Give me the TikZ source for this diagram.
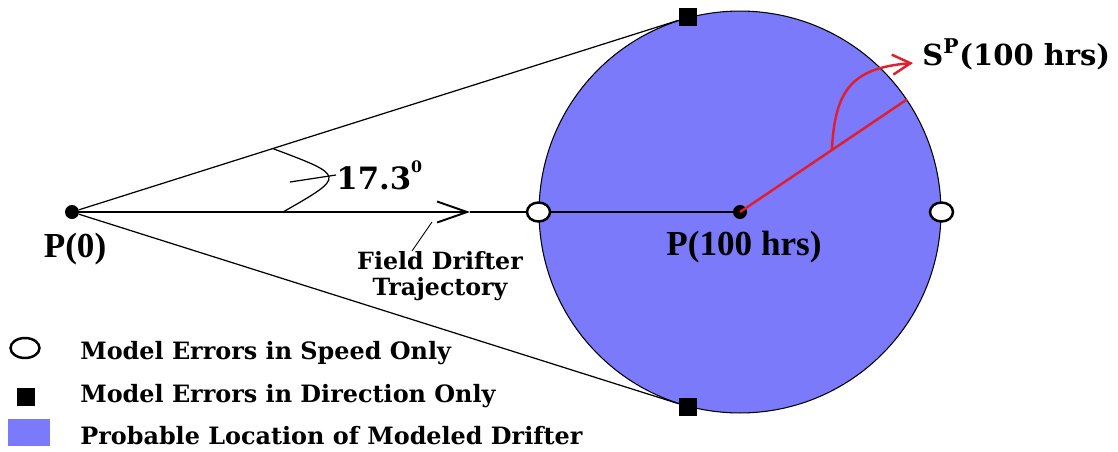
\documentclass[tikz,border=0pt]{standalone}
\usepackage{fontspec}
\setmainfont{DejaVu Serif}
\newfontfamily\ptfont{Liberation Serif}
\usetikzlibrary{arrows.meta, positioning, shapes.geometric, calc}
\definecolor{driftblue}{RGB}{122,122,250}
\definecolor{driftred}{RGB}{224,30,46}

\begin{document}
\begin{tikzpicture}[
    x=0.02cm, y=-0.02cm,
    posdot/.style={circle, fill=black, inner sep=0pt, minimum size=0.28cm},
    dirmark/.style={rectangle, fill=black, inner sep=0pt, minimum size=0.36cm},
    speedmark/.style={ellipse, draw, fill=white, line width=1.4pt, inner sep=0pt,
                      minimum width=0.46cm, minimum height=0.38cm},
    ptlabel/.style={font=\ptfont\bfseries\fontsize{20}{22}\selectfont, inner sep=0pt, anchor=base},
    legtext/.style={font=\bfseries\fontsize{13.6}{15}\selectfont, inner sep=0pt, anchor=base west},
    thinline/.style={line width=0.7pt},
    barb/.style={-{Straight Barb[length=#1, width=0.42cm, line width=1.1pt]}},
]
    \useasboundingbox (0,0) rectangle (1118,451);

    % Probable location of the modeled drifter
    \node[circle, fill=driftblue, draw, line width=0.6pt, inner sep=0pt, minimum size=8.04cm] (zone) at (740,212) {};
    \node[posdot] (p0) at (72,212) {};
    \node[posdot] (p100) at (zone.center) {};
    \node[dirmark] (dirtop) at (zone.105) {};
    \node[dirmark] (dirbot) at (zone.255) {};
    \node[speedmark] (spdw) at (zone.west) {};
    \node[speedmark] (spde) at (zone.east) {};
    \coordinate (chev) at (470,212);

    % Trajectory and direction limits
    \draw[thinline] (p0) -- (dirtop);
    \draw[thinline] (p0) -- (dirbot);
    \draw[thinline, barb=0.6cm] (p0) -- (chev);
    \draw[thinline] (chev) -- (spdw) -- (p100);

    % Angle
    \coordinate (anga) at ($(p0)!0.326!(dirtop)$);
    \coordinate (angb) at (283,212);
    \coordinate (angtick) at (290,182);
    \draw[thinline] (anga) .. controls (346,176) .. (angb);
    \node[anchor=west, inner sep=0pt, font=\bfseries\fontsize{17.5}{19}\selectfont] (anglbl) at (336,175)
        {17.3\raisebox{1.05ex}{\fontsize{9}{9}\selectfont 0}};
    \draw[thinline] (angtick) -- (anglbl.west);

    \node[ptlabel] (p0lbl) at (75,257) {P(0)};
    \node[ptlabel] (p100lbl) at (744,255) {P(100 hrs)};

    % Field drifter
    \node[anchor=north, inner sep=0pt, align=center, font=\bfseries\fontsize{13.5}{15}\selectfont] (fdt) at (440,251)
        {Field Drifter\\Trajectory};
    \coordinate (fdtip) at (432,222);
    \draw[line width=0.5pt] ($(fdt.north)+(-28,0)$) -- (fdtip);

    % Modeled drifter
    \coordinate (redend) at (zone.34.6);
    \coordinate (turn) at ($(p100)!0.55!(redend)$);
    \coordinate (tip) at (913,63);
    \draw[driftred, line width=1.4pt] (p100.center) -- (redend);
    \draw[driftred, line width=1.4pt, -{Straight Barb[length=0.36cm, width=0.4cm, line width=1.4pt]}]
        (turn) .. controls +(3,-58) and +(-63,5) .. (tip);
    \node[anchor=base west, inner sep=0pt, font=\bfseries\fontsize{16.5}{18}\selectfont] (splbl) at (922,65)
        {S\textsuperscript{P}(100 hrs)};

    % Legend
    \node[speedmark, minimum width=0.58cm, minimum height=0.4cm] (legspeed) at (25,348) {};
    \node[dirmark] (legdir) at (26,397) {};
    \node[fill=driftblue, inner sep=0pt, minimum width=0.84cm, minimum height=0.54cm] (legzone) at (29,432) {};
    \node[legtext] (legspeedtxt) at (80,359) {Model Errors in Speed Only};
    \node[legtext] (legdirtxt) at (80,402) {Model Errors in Direction Only};
    \node[legtext] (legzonetxt) at (80,444) {Probable Location of Modeled Drifter};
\end{tikzpicture}
\end{document}
